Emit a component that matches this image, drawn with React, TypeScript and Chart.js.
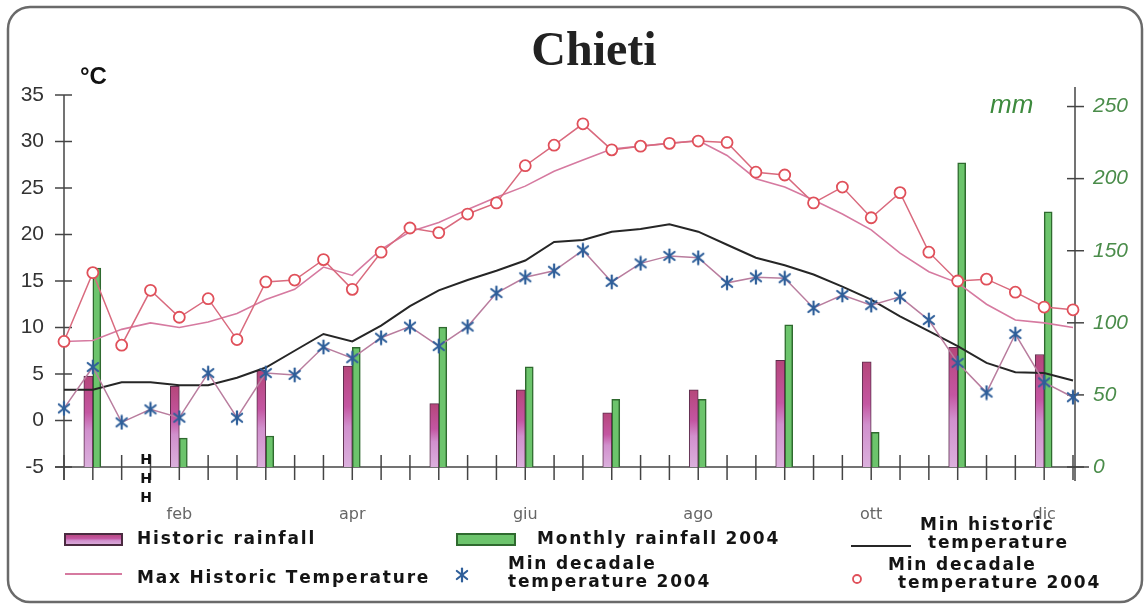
import React, { useEffect, useRef } from 'react';
import { Chart, registerables } from 'chart.js';

Chart.register(...registerables);

// ---------- data ----------
const months = ['gen', 'feb', 'mar', 'apr', 'mag', 'giu', 'lug', 'ago', 'set', 'ott', 'nov', 'dic'];
const decadeNames = ['I', 'II', 'III'];
const shownMonths = ['feb', 'apr', 'giu', 'ago', 'ott', 'dic'];
const decadeLabels = months.flatMap((m) => decadeNames.map((d) => `${m} ${d}`));

const leftTicks = [-5, 0, 5, 10, 15, 20, 25, 30, 35];
const rightTicks = [0, 50, 100, 150, 200, 250];

// monthly rainfall (mm)
const historicRainfall = [63, 56, 67, 70, 44, 53.5, 37.5, 53.5, 74, 73, 83, 78];
const monthlyRainfall2004 = [138, 20, 21.5, 83, 97, 69.5, 47, 47, 98.6, 24, 211, 177];

// decadal temperatures (°C)
const maxHistoricTemp = [
  8.5, 8.6, 9.8, 10.5, 10.0, 10.6, 11.5, 13.0, 14.1, 16.5, 15.6, 18.4,
  20.3, 21.3, 22.7, 24.0, 25.2, 26.8, 28.0, 29.2, 29.5, 29.8, 30.1, 28.5,
  26.0, 25.1, 23.7, 22.2, 20.5, 18.0, 16.0, 14.8, 12.5, 10.8, 10.5, 10.0,
];
const minHistoricTemp = [
  3.3, 3.3, 4.1, 4.1, 3.8, 3.8, 4.6, 5.7, 7.5, 9.3, 8.5, 10.2,
  12.3, 14.0, 15.1, 16.1, 17.2, 19.2, 19.4, 20.3, 20.6, 21.1, 20.3, 18.9,
  17.5, 16.7, 15.7, 14.4, 13.0, 11.2, 9.6, 8.0, 6.2, 5.2, 5.1, 4.3,
];
const minDecadale2004 = [
  1.3, 5.75, -0.2, 1.2, 0.3, 5.1, 0.3, 5.1, 4.9, 7.9, 6.7, 8.9,
  10.1, 8.0, 10.1, 13.7, 15.4, 16.1, 18.3, 14.9, 16.9, 17.7, 17.5, 14.8,
  15.4, 15.3, 12.1, 13.5, 12.4, 13.3, 10.8, 6.2, 3.0, 9.3, 4.1, 2.5,
];
const decadale2004Circles = [
  8.5, 15.9, 8.1, 14.0, 11.1, 13.1, 8.7, 14.9, 15.1, 17.3, 14.1, 18.1,
  20.7, 20.2, 22.2, 23.4, 27.4, 29.6, 31.9, 29.1, 29.5, 29.8, 30.05, 29.9,
  26.7, 26.4, 23.4, 25.1, 21.8, 24.5, 18.1, 15.0, 15.2, 13.8, 12.2, 11.9,
];

const legendLabels = {
  hist: 'Historic rainfall',
  monthly: 'Monthly rainfall 2004',
  minHist: ['Min historic', 'temperature'],
  maxHist: 'Max Historic Temperature',
  star: ['Min decadale', 'temperature 2004'],
  circle: ['Min decadale', 'temperature 2004'],
};

// ---------- derived for the library ----------
const xTickText = decadeLabels.map((_, i) => {
  if (i % 3 !== 1) return '';
  const m = months[(i - 1) / 3];
  return shownMonths.includes(m) ? m : '';
});
const histByDecade = decadeLabels.map((_, i) => (i % 3 === 1 ? historicRainfall[(i - 1) / 3] : null));
const rain2004ByDecade = decadeLabels.map((_, i) => (i % 3 === 1 ? monthlyRainfall2004[(i - 1) / 3] : null));

const RIGHT_MAX = 258;

const C_MAXH = '#d67aa0';
const C_MINH = '#262626';
const C_STAR = '#2f5f9a';
const C_STARLINE = '#b97d9e';
const C_CIRCLE = '#e0505a';
const C_CIRCLELINE = '#d96a7e';
const C_GREEN = '#6cc46c';
const C_GREEN_B = '#2f6a2f';
const C_AXIS = '#444';

function makeStar(size: number) {
  const c = document.createElement('canvas');
  c.width = size;
  c.height = size;
  const g = c.getContext('2d')!;
  g.strokeStyle = C_STAR;
  g.lineWidth = 2.2;
  g.lineCap = 'round';
  const m = size / 2;
  const r = size / 2 - 1.5;
  for (const a of [90, 38, 142]) {
    const rad = (a * Math.PI) / 180;
    g.beginPath();
    g.moveTo(m - r * Math.cos(rad), m - r * Math.sin(rad));
    g.lineTo(m + r * Math.cos(rad), m + r * Math.sin(rad));
    g.stroke();
  }
  return c;
}

function spaced(ctx: CanvasRenderingContext2D, text: string, x: number, y: number, sp: number) {
  let cx = x;
  for (const ch of text) {
    ctx.fillText(ch, cx, y);
    cx += ctx.measureText(ch).width + sp;
  }
}

function pinkGradient(ctx: CanvasRenderingContext2D, top: number, bottom: number) {
  const g = ctx.createLinearGradient(0, top, 0, bottom);
  g.addColorStop(0, '#b5467a');
  g.addColorStop(0.4, '#c456a2');
  g.addColorStop(0.6, '#d190cd');
  g.addColorStop(1, '#dbb0dd');
  return g;
}

export default function App() {
  const ref = useRef<HTMLCanvasElement>(null);

  useEffect(() => {
    if (!ref.current) return;
    const star = makeStar(16);

    const decor = {
      id: 'decor',
      beforeDatasetsDraw(chart: any) {
        const { ctx, chartArea, scales } = chart;
        const x = scales.x;
        const yL = scales.y;
        const yR = scales.y1;
        ctx.save();
        ctx.strokeStyle = C_AXIS;
        ctx.lineWidth = 1.5;
        const lx = chartArea.left;
        const rx = chartArea.right + 2;
        const by = chartArea.bottom;
        // left axis
        ctx.beginPath();
        ctx.moveTo(lx, yL.getPixelForValue(35));
        ctx.lineTo(lx, by + 13);
        ctx.stroke();
        leftTicks.forEach((v) => {
          const py = yL.getPixelForValue(v);
          ctx.beginPath();
          ctx.moveTo(lx - 9, py);
          ctx.lineTo(lx + 8, py);
          ctx.stroke();
        });
        // right axis
        ctx.beginPath();
        ctx.moveTo(rx, chartArea.top - 8);
        ctx.lineTo(rx, by + 14);
        ctx.stroke();
        rightTicks.forEach((v) => {
          const py = yR.getPixelForValue(v);
          ctx.beginPath();
          ctx.moveTo(rx - 8, py);
          ctx.lineTo(rx + 9, py);
          ctx.stroke();
        });
        // x axis
        ctx.beginPath();
        ctx.moveTo(lx - 9, by);
        ctx.lineTo(rx + 14, by);
        ctx.stroke();
        decadeLabels.forEach((_, i) => {
          const px = x.getPixelForValue(i);
          ctx.beginPath();
          ctx.moveTo(px, by - 12);
          ctx.lineTo(px, by + 13);
          ctx.stroke();
        });
        ctx.restore();
      },
      afterDraw(chart: any) {
        const { ctx } = chart;
        ctx.save();
        // title
        ctx.fillStyle = '#222';
        ctx.font = 'bold 48px "Liberation Serif"';
        ctx.textAlign = 'center';
        ctx.textBaseline = 'middle';
        ctx.fillText('Chieti', 594, 53);
        // units
        ctx.textAlign = 'left';
        ctx.fillStyle = '#111';
        ctx.font = 'bold 24px "Liberation Sans"';
        ctx.fillText('°C', 80, 77);
        ctx.fillStyle = '#3d8a3d';
        ctx.font = 'italic 26px "Liberation Sans"';
        ctx.fillText('mm', 990, 106);
        // H marks
        ctx.fillStyle = '#111';
        ctx.font = 'bold 14px "DejaVu Sans"';
        ctx.textAlign = 'center';
        [460, 479, 498].forEach((yy) => ctx.fillText('H', 146, yy));
        // legend
        ctx.textAlign = 'left';
        ctx.font = 'bold 17px "DejaVu Sans"';
        const SP = 1.8;
        const TXT = '#141414';
        // historic rainfall swatch
        ctx.fillStyle = pinkGradient(ctx, 534, 545);
        ctx.fillRect(65, 534, 57, 11);
        ctx.strokeStyle = '#4a2a40';
        ctx.lineWidth = 2;
        ctx.strokeRect(65, 534, 57, 11);
        ctx.fillStyle = TXT;
        spaced(ctx, legendLabels.hist, 137, 540, SP);
        // monthly 2004 swatch
        ctx.fillStyle = C_GREEN;
        ctx.fillRect(457, 534, 58, 11);
        ctx.strokeStyle = C_GREEN_B;
        ctx.strokeRect(457, 534, 58, 11);
        ctx.fillStyle = TXT;
        spaced(ctx, legendLabels.monthly, 537, 540, SP);
        // min historic
        ctx.strokeStyle = C_MINH;
        ctx.lineWidth = 2;
        ctx.beginPath();
        ctx.moveTo(851, 546);
        ctx.lineTo(911, 546);
        ctx.stroke();
        spaced(ctx, legendLabels.minHist[0], 920, 526, SP);
        spaced(ctx, legendLabels.minHist[1], 928, 544, SP);
        // max historic
        ctx.strokeStyle = C_MAXH;
        ctx.beginPath();
        ctx.moveTo(65, 574);
        ctx.lineTo(122, 574);
        ctx.stroke();
        spaced(ctx, legendLabels.maxHist, 137, 579, SP);
        // star
        ctx.drawImage(star, 462 - 8, 575 - 8);
        spaced(ctx, legendLabels.star[0], 508, 565, SP);
        spaced(ctx, legendLabels.star[1], 508, 583, SP);
        // circle
        ctx.strokeStyle = C_CIRCLE;
        ctx.lineWidth = 1.8;
        ctx.beginPath();
        ctx.arc(857, 579, 4, 0, Math.PI * 2);
        ctx.stroke();
        spaced(ctx, legendLabels.circle[0], 888, 566, SP);
        spaced(ctx, legendLabels.circle[1], 898, 584, SP);
        // frame
        ctx.strokeStyle = '#6a6a6a';
        ctx.lineWidth = 2.5;
        ctx.beginPath();
        (ctx as any).roundRect(8, 7, 1134, 595, 22);
        ctx.stroke();
        ctx.restore();
      },
    };

    const chart = new Chart(ref.current, {
      type: 'line',
      data: {
        labels: decadeLabels,
        datasets: [
          {
            label: 'Min decadale temperature 2004 (circles)',
            data: decadale2004Circles,
            yAxisID: 'y',
            borderColor: C_CIRCLELINE,
            borderWidth: 1.5,
            pointStyle: 'circle',
            pointRadius: 5.5,
            pointBorderColor: C_CIRCLE,
            pointBackgroundColor: '#fff',
            pointBorderWidth: 1.8,
            order: 0,
          },
          {
            label: 'Min decadale temperature 2004',
            data: minDecadale2004,
            yAxisID: 'y',
            borderColor: C_STARLINE,
            borderWidth: 1.5,
            pointStyle: star as any,
            pointRadius: 8,
            order: 0,
          },
          {
            label: 'Max Historic Temperature',
            data: maxHistoricTemp,
            yAxisID: 'y',
            borderColor: C_MAXH,
            borderWidth: 1.6,
            pointRadius: 0,
            order: 0,
          },
          {
            label: 'Min historic temperature',
            data: minHistoricTemp,
            yAxisID: 'y',
            borderColor: C_MINH,
            borderWidth: 2,
            pointRadius: 0,
            order: 0,
          },
          {
            type: 'bar',
            label: 'Historic rainfall',
            data: histByDecade,
            yAxisID: 'y1',
            barThickness: 9,
            backgroundColor: (c: any) => {
              const ch = c.chart;
              if (!ch.chartArea || c.raw == null) return '#c86aa8';
              const ys = ch.scales.y1;
              return pinkGradient(ch.ctx, ys.getPixelForValue(c.raw), ys.getPixelForValue(0));
            },
            borderColor: '#5b2d4b',
            borderWidth: 1,
            order: 1,
          } as any,
          {
            type: 'bar',
            label: 'Monthly rainfall 2004',
            data: rain2004ByDecade,
            yAxisID: 'y1',
            barThickness: 8,
            backgroundColor: C_GREEN,
            borderColor: C_GREEN_B,
            borderWidth: 1.5,
            order: 1,
          } as any,
        ],
      },
      options: {
        responsive: false,
        animation: false,
        events: [],
        layout: { padding: { top: 95, left: 0, right: 0, bottom: 0 } },
        plugins: {
          legend: { display: false },
          title: { display: false },
          tooltip: { enabled: false },
        },
        scales: {
          x: {
            type: 'category',
            offset: false,
            grid: { display: false, drawTicks: false },
            border: { display: false },
            ticks: {
              autoSkip: false,
              maxRotation: 0,
              minRotation: 0,
              padding: 38,
              color: '#666',
              font: { family: '"DejaVu Sans"', size: 16 },
              callback: (_v: any, i: number) => xTickText[i],
            },
            afterFit: (s: any) => {
              s.height = 138;
            },
          },
          y: {
            position: 'left',
            min: -5,
            max: 35,
            afterBuildTicks: (s: any) => {
              s.ticks = leftTicks.map((v) => ({ value: v }));
            },
            ticks: {
              padding: 20,
              color: '#333',
              font: { family: '"Liberation Sans"', size: 21 },
            },
            grid: { display: false, drawTicks: false },
            border: { display: false },
            afterFit: (s: any) => {
              s.width = 64;
            },
          },
          y1: {
            position: 'right',
            min: 0,
            max: RIGHT_MAX,
            afterBuildTicks: (s: any) => {
              s.ticks = rightTicks.map((v) => ({ value: v }));
            },
            ticks: {
              padding: 20,
              color: '#4a8c4a',
              font: { family: '"Liberation Sans"', size: 21, style: 'italic' },
            },
            grid: { display: false, drawTicks: false },
            border: { display: false },
            afterFit: (s: any) => {
              s.width = 72;
            },
          },
        },
      } as any,
      plugins: [decor],
    });
    return () => chart.destroy();
  }, []);

  return (
    <div style={{ position: 'absolute', left: 0, top: 0, width: 1145, height: 605, background: '#fff' }}>
      <canvas ref={ref} width={1145} height={605} />
    </div>
  );
}
